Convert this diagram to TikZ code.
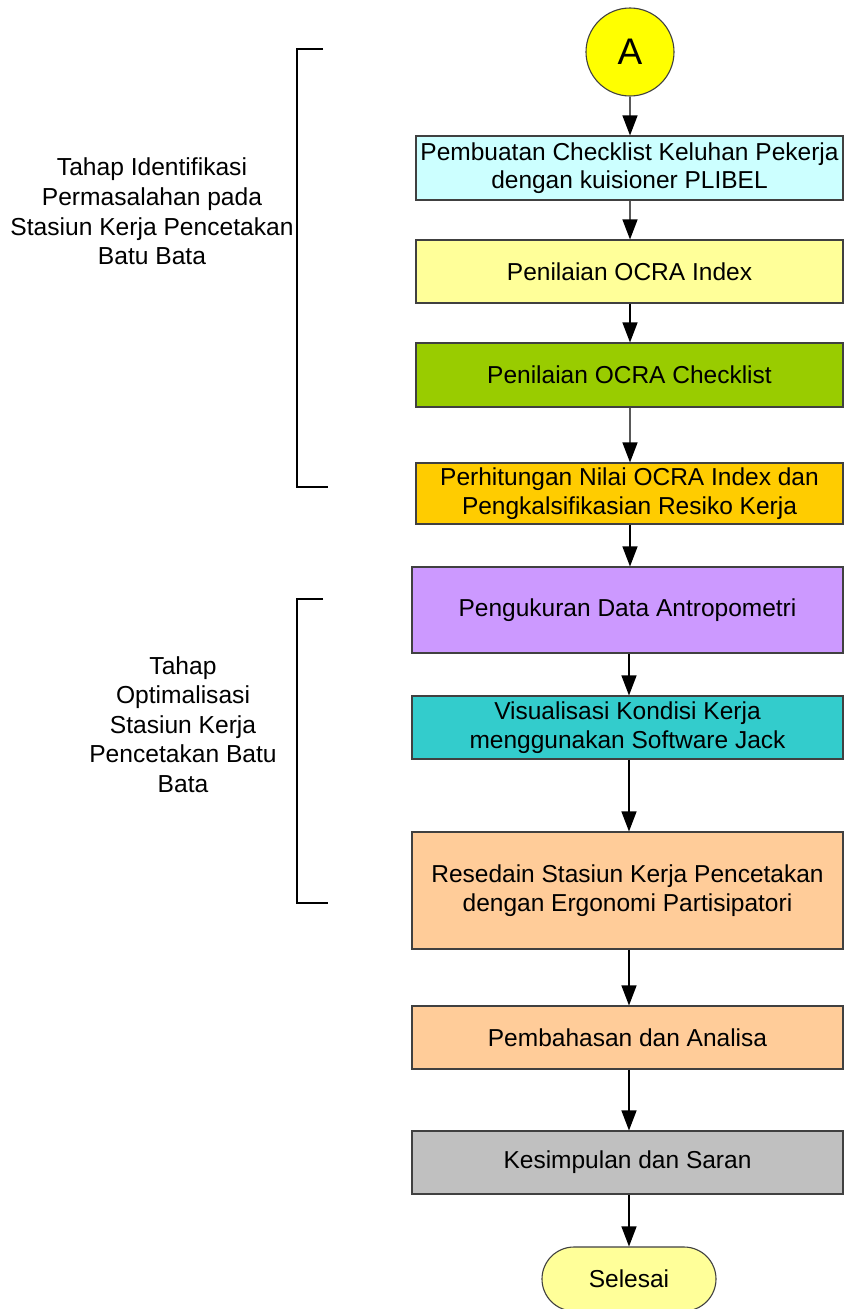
\documentclass[tikz,border=0pt]{standalone}
\usepackage{fontspec}
\setmainfont{Liberation Sans}
\usetikzlibrary{arrows.meta,shapes.misc}
\definecolor{cA}{HTML}{FFFF00}
\definecolor{cCyan}{HTML}{CCFFFF}
\definecolor{cLY}{HTML}{FFFF99}
\definecolor{cGreen}{HTML}{99CC00}
\definecolor{cGold}{HTML}{FFCC00}
\definecolor{cPurple}{HTML}{CC99FF}
\definecolor{cTeal}{HTML}{33CCCC}
\definecolor{cPeach}{HTML}{FFCC99}
\definecolor{cGray}{HTML}{C0C0C0}
\definecolor{cBorder}{HTML}{404040}
\tikzset{
  boxA/.style={draw=cBorder, line width=1.1pt, rectangle, minimum width=427pt, align=center, inner sep=0pt,
    font=\fontsize{24.5}{28.5}\selectfont},
  boxB/.style={draw=cBorder, line width=1.1pt, rectangle, minimum width=431pt, align=center, inner sep=0pt,
    font=\fontsize{24.5}{28.5}\selectfont},
  arr/.style={line width=1.2pt, -{Triangle[length=20pt,width=15pt,color=black]}},
  grayarr/.style={arr, draw=black!65},
  sidetext/.style={align=center, font=\fontsize{24.6}{29.6}\selectfont},
  bracket/.style={line width=1.2pt}
}
\begin{document}
\begin{tikzpicture}[x=1pt,y=-1pt]
\useasboundingbox (0,0) rectangle (844,1309);
\fill[white] (0,0) rectangle (844,1309);
% start connector
\node[circle, draw=cBorder, line width=1.1pt, fill=cA, minimum size=88pt, inner sep=0pt,
  font=\fontsize{37}{40}\selectfont] (A) at (630,52) {A};
% process boxes
\node[boxA, fill=cCyan, minimum height=64pt] (b1) at (629.5,168) {Pembuatan Checklist Keluhan Pekerja\\dengan kuisioner PLIBEL};
\node[boxA, fill=cLY, minimum height=63pt] (b2) at (629.5,271.5) {Penilaian OCRA Index};
\node[boxA, fill=cGreen, minimum height=64pt] (b3) at (629.5,375) {Penilaian OCRA Checklist};
\node[boxA, fill=cGold, minimum height=61pt] (b4) at (629.5,493.5) {Perhitungan Nilai OCRA Index dan\\Pengkalsifikasian Resiko Kerja};
\node[boxB, fill=cPurple, minimum height=86pt] (b5) at (627.5,610) {Pengukuran Data Antropometri};
\node[boxB, fill=cTeal, minimum height=63pt] (b6) at (627.5,727.5) {Visualisasi Kondisi Kerja\\menggunakan Software Jack};
\node[boxB, fill=cPeach, minimum height=117pt] (b7) at (627.5,890.5) {Resedain Stasiun Kerja Pencetakan\\dengan Ergonomi Partisipatori};
\node[boxB, fill=cPeach, minimum height=63pt] (b8) at (627.5,1037.5) {Pembahasan dan Analisa};
\node[boxB, fill=cGray, minimum height=63pt] (b9) at (627.5,1162.5) {Kesimpulan dan Saran};
\node[rounded rectangle, draw=cBorder, line width=1.1pt, fill=cLY, minimum width=174pt, minimum height=64pt,
  inner sep=0pt, font=\fontsize{24.5}{28.5}\selectfont] (end) at (629,1279) {Selesai};
% connectors
\draw[grayarr] (A.south) -- (A.south |- b1.north);
\draw[grayarr] (b1.south -| A.south) -- (b2.north -| A.south);
\draw[arr] (b2.south -| A.south) -- (b3.north -| A.south);
\draw[grayarr] (b3.south -| A.south) -- (b4.north -| A.south);
\draw[arr] (b4.south -| A.south) -- (b5.north -| A.south);
\draw[arr] (b5.south -| end.north) -- (b6.north -| end.north);
\draw[arr] (b6.south -| end.north) -- (b7.north -| end.north);
\draw[arr] (b7.south -| end.north) -- (b8.north -| end.north);
\draw[arr] (b8.south -| end.north) -- (b9.north -| end.north);
\draw[arr] (b9.south -| end.north) -- (end.north);
% phase labels and brackets
\node[sidetext] (t1) at (152,211.5) {Tahap Identifikasi\\Permasalahan pada\\Stasiun Kerja Pencetakan\\Batu Bata};
\node[sidetext] (t2) at (183,724.5) {Tahap\\Optimalisasi\\Stasiun Kerja\\Pencetakan Batu\\Bata};
\draw[bracket] (323,49) -- (297,49) -- (297,487) -- (328,487);
\draw[bracket] (323,599) -- (297,599) -- (297,903) -- (328,903);
\end{tikzpicture}
\end{document}
